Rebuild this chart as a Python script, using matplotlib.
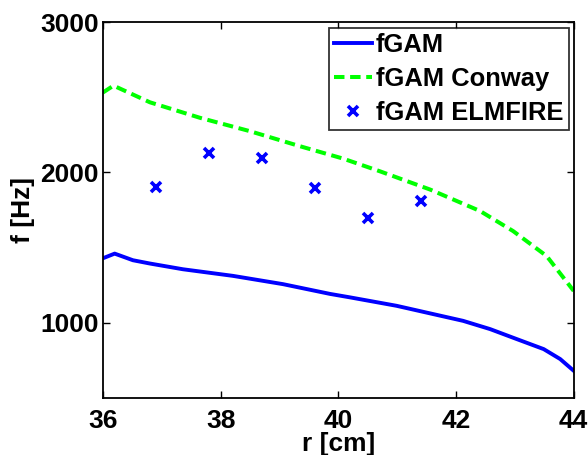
import matplotlib
matplotlib.use("Agg")
import matplotlib.pyplot as plt

plt.rcParams['font.family'] = ['Liberation Sans', 'DejaVu Sans']
plt.rcParams['font.weight'] = 'bold'

# fGAM (model)
r_fgam = [36.0, 36.2, 36.51, 36.8, 37.36, 38.21, 39.06, 39.86, 40.2, 40.99, 42.12,
          42.58, 43.03, 43.49, 43.77, 44.0]
f_fgam = [1429, 1460, 1416, 1394, 1356, 1312, 1257, 1192, 1169, 1113, 1013,
          958, 892, 825, 759, 681]

# fGAM Conway
r_conway = [36.0, 36.18, 36.8, 37.65, 38.5, 39.35, 40.08, 40.71, 41.56, 42.41,
            42.97, 43.54, 44.0]
f_conway = [2531, 2577, 2466, 2363, 2274, 2174, 2092, 2007, 1886, 1743,
            1610, 1444, 1212]

# fGAM ELMFIRE
r_elm = [36.9, 37.8, 38.7, 39.6, 40.5, 41.4]
f_elm = [1900, 2130, 2095, 1895, 1700, 1810]

xticks = [36, 38, 40, 42, 44]
yticks = [1000, 2000, 3000]

fig = plt.figure(figsize=(5.88, 4.55), dpi=100)
ax = fig.add_axes([0.175, 0.1253, 0.8007, 0.8263])

ax.plot(r_fgam, f_fgam, color=(0, 0, 1), lw=2.8, label='fGAM')
ax.plot(r_conway, f_conway, color=(0, 1, 0), lw=2.9, ls=(0, (2.6, 1.4)),
        label='fGAM Conway')
ax.plot(r_elm, f_elm, ls='none', marker='x', color=(0, 0, 1), ms=7, mew=2.6,
        label='fGAM ELMFIRE')

ax.set_xlim(36, 44)
ax.set_ylim(500, 3000)
ax.set_xticks(xticks)
ax.set_yticks(yticks)
ax.tick_params(axis='both', direction='in', top=True, right=True, length=5,
               width=1, labelsize=19)
ax.tick_params(axis='x', pad=8)
ax.tick_params(axis='y', pad=3)
for lab in ax.get_xticklabels() + ax.get_yticklabels():
    lab.set_fontweight('bold')
for s in ax.spines.values():
    s.set_linewidth(1.3)

ax.set_xlabel('r [cm]', fontsize=19, fontweight='bold', labelpad=-1)
ax.set_ylabel('f [Hz]', fontsize=19, fontweight='bold', labelpad=4)

leg = ax.legend(loc='upper right', bbox_to_anchor=(0.989, 0.985),
                prop={'weight': 'bold', 'size': 18.4}, frameon=True,
                fancybox=False, edgecolor='black', handlelength=1.5,
                handletextpad=0.15, borderpad=0.2, labelspacing=0.4,
                borderaxespad=0)
leg.get_frame().set_linewidth(1.3)

fig.savefig('out.png', dpi=100)
